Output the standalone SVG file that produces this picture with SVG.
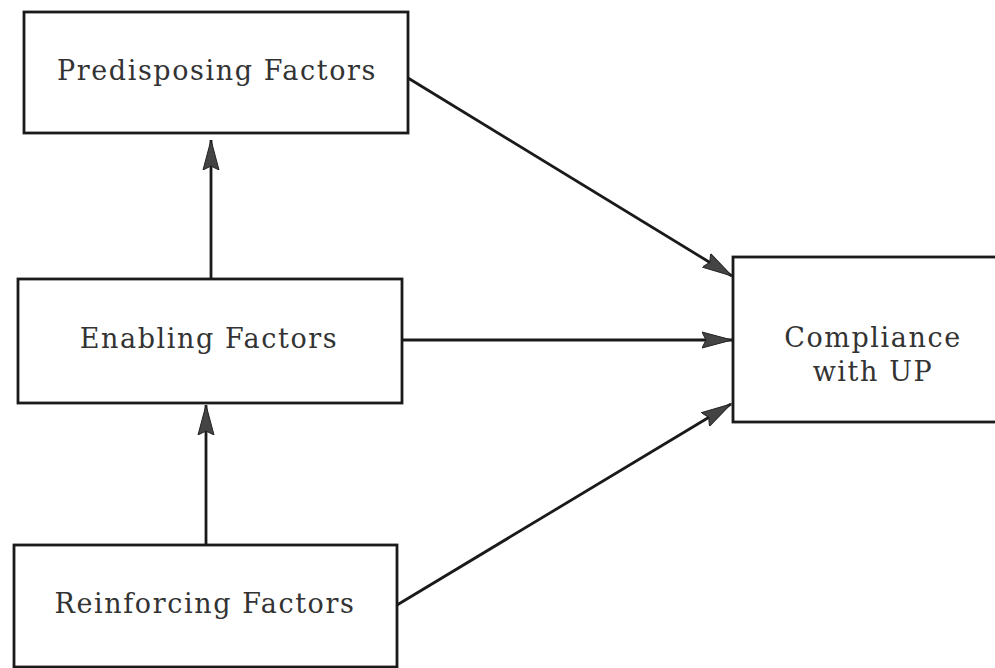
<svg xmlns="http://www.w3.org/2000/svg" width="995" height="668" viewBox="0 0 995 668">
<defs>
<style>
.box{fill:#fff;stroke:#1a1a1a;stroke-width:2.8}
.lbl{font-family:"DejaVu Serif","Liberation Serif",serif;font-size:27px;letter-spacing:1.6px;fill:#333;text-anchor:middle}
.edge{stroke:#1a1a1a;stroke-width:2.8;fill:none}
.head{fill:#444;stroke:#222;stroke-width:1}
</style>
<marker id="arr" markerWidth="32" markerHeight="20" refX="30" refY="9" orient="auto" markerUnits="userSpaceOnUse">
<path class="head" d="M0,1 L30,9 L0,17 L4,9 Z"/>
</marker>
</defs>
<rect width="995" height="668" fill="#fff"/>
<g id="connectors">
<line class="edge" x1="211" y1="279" x2="211" y2="140" marker-end="url(#arr)"/>
<line class="edge" x1="206" y1="545" x2="206" y2="405" marker-end="url(#arr)"/>
<line class="edge" x1="408" y1="78" x2="732" y2="276" marker-end="url(#arr)"/>
<line class="edge" x1="402" y1="340" x2="732" y2="340" marker-end="url(#arr)"/>
<line class="edge" x1="397" y1="605" x2="731" y2="404" marker-end="url(#arr)"/>
</g>
<g id="predisposing">
<rect class="box" x="24" y="12" width="384" height="121"/>
<text class="lbl" x="217" y="80">Predisposing Factors</text>
</g>
<g id="enabling">
<rect class="box" x="18" y="279" width="384" height="124"/>
<text class="lbl" x="209" y="348">Enabling Factors</text>
</g>
<g id="reinforcing">
<rect class="box" x="14" y="545" width="383" height="122"/>
<text class="lbl" x="205" y="613">Reinforcing Factors</text>
</g>
<g id="compliance">
<rect class="box" x="733" y="257" width="270" height="165"/>
<text class="lbl" x="873" y="347">Compliance</text>
<text class="lbl" x="873" y="381">with UP</text>
</g>
</svg>
